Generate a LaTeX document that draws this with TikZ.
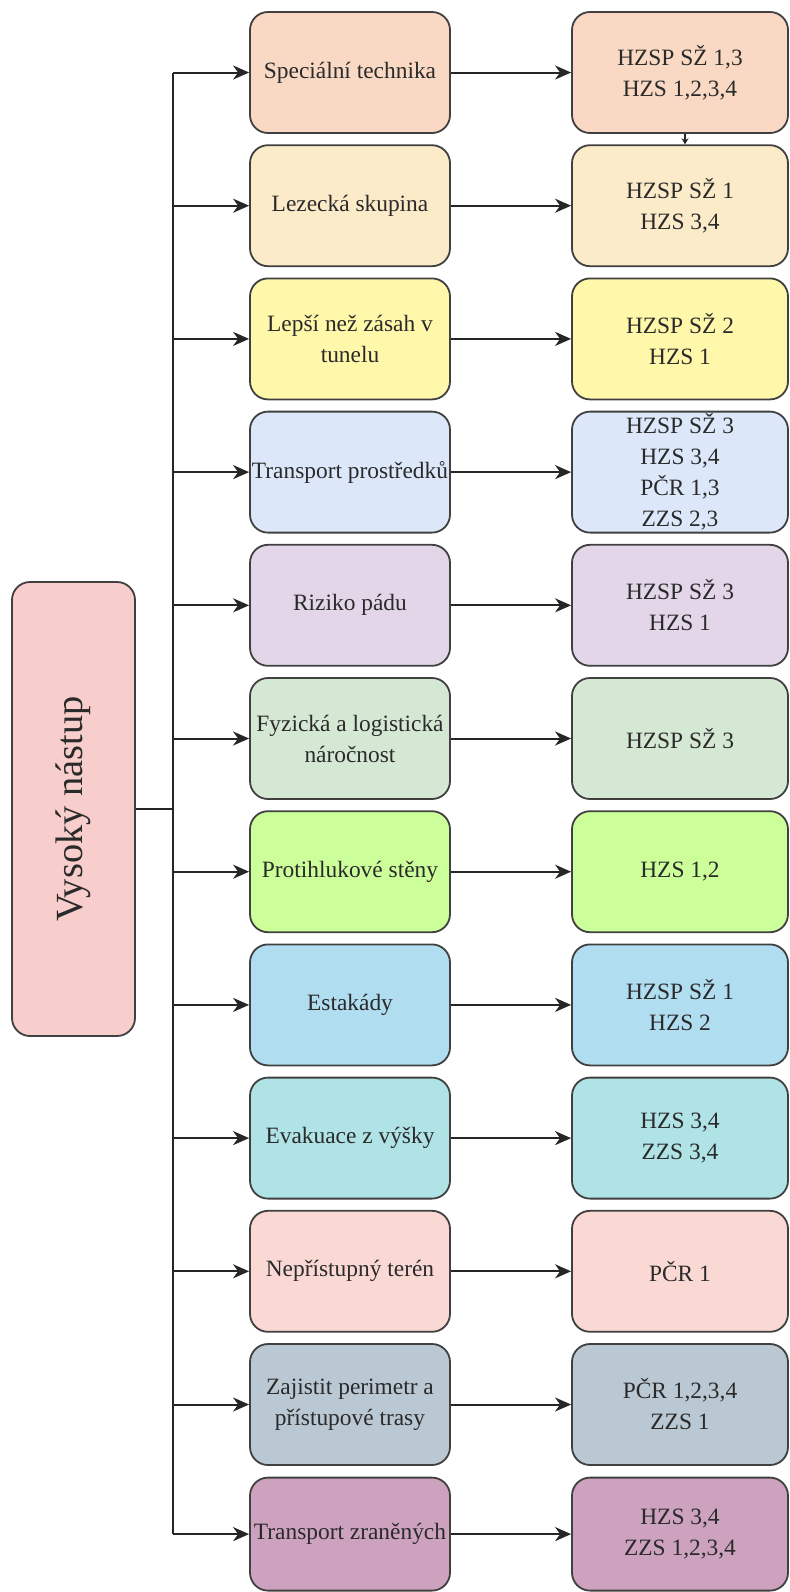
\documentclass[tikz,border=0pt]{standalone}
\usepackage{fontspec}
\setmainfont{Liberation Serif}
\usetikzlibrary{arrows.meta}
\definecolor{cbig}{HTML}{F8CECC}
\definecolor{ca}{HTML}{F9D9C3}
\definecolor{cb}{HTML}{FCEBC9}
\definecolor{cc}{HTML}{FFF8AA}
\definecolor{cd}{HTML}{DCE8FA}
\definecolor{ce}{HTML}{E2D6E8}
\definecolor{cf}{HTML}{D5E8D4}
\definecolor{cg}{HTML}{CCFF99}
\definecolor{ch}{HTML}{B1DDF0}
\definecolor{ci}{HTML}{B0E3E6}
\definecolor{cj}{HTML}{FAD9D5}
\definecolor{ck}{HTML}{BAC8D3}
\definecolor{cl}{HTML}{CDA2BE}
\definecolor{bord}{HTML}{404040}
\definecolor{txt}{HTML}{2A2A2A}
\tikzset{
  box/.style={draw=bord, line width=0.9pt, rounded corners=9pt, text=txt,
    align=center, inner sep=0pt, font=\fontsize{11.7}{15.5}\selectfont},
  midbox/.style={box, minimum width=100pt, minimum height=60.5pt},
  resbox/.style={box, minimum width=108pt, minimum height=60.5pt},
  conn/.style={line width=1pt, black!85},
  arr/.style={conn, -{Stealth[length=8pt,width=7pt,inset=2.5pt]}},
  smallarr/.style={conn, -{Stealth[length=3pt,width=3.5pt,inset=1pt]}}
}
\begin{document}
\begin{tikzpicture}[x=0.5pt,y=-0.5pt]
\useasboundingbox (0,0) rectangle (790,1592);
\fill[white] (0,0) rectangle (790,1592);

\node[box, fill=cbig, minimum width=61.5pt, minimum height=227pt,
  font=\fontsize{19.2}{23}\selectfont] (big) at (73.5,809) {\rotatebox{90}{Vysoký nástup}};

% middle column
\node[midbox, fill=ca] (m1) at (350,72.5) {Speciální technika};
\node[midbox, fill=cb] (m2) at (350,205.7) {Lezecká skupina};
\node[midbox, fill=cc] (m3) at (350,338.9) {Lepší než zásah v\\tunelu};
\node[midbox, fill=cd] (m4) at (350,472.1) {Transport prostředků};
\node[midbox, fill=ce] (m5) at (350,605.3) {Riziko pádu};
\node[midbox, fill=cf] (m6) at (350,738.5) {Fyzická a logistická\\náročnost};
\node[midbox, fill=cg] (m7) at (350,871.7) {Protihlukové stěny};
\node[midbox, fill=ch] (m8) at (350,1004.9) {Estakády};
\node[midbox, fill=ci] (m9) at (350,1138.1) {Evakuace z výšky};
\node[midbox, fill=cj] (m10) at (350,1271.3) {Nepřístupný terén};
\node[midbox, fill=ck] (m11) at (350,1404.5) {Zajistit perimetr a\\přístupové trasy};
\node[midbox, fill=cl, minimum height=56.5pt] (m12) at (350,1534.1) {Transport zraněných};

% right column
\node[resbox, fill=ca] (r1) at (680,72.5) {HZSP SŽ 1,3\\HZS 1,2,3,4};
\node[resbox, fill=cb] (r2) at (680,205.7) {HZSP SŽ 1\\HZS 3,4};
\node[resbox, fill=cc] (r3) at (680,338.9) {HZSP SŽ 2\\HZS 1};
\node[resbox, fill=cd] (r4) at (680,472.1) {HZSP SŽ 3\\HZS 3,4\\PČR 1,3\\ZZS 2,3};
\node[resbox, fill=ce] (r5) at (680,605.3) {HZSP SŽ 3\\HZS 1};
\node[resbox, fill=cf] (r6) at (680,738.5) {HZSP SŽ 3};
\node[resbox, fill=cg] (r7) at (680,871.7) {HZS 1,2};
\node[resbox, fill=ch] (r8) at (680,1004.9) {HZSP SŽ 1\\HZS 2};
\node[resbox, fill=ci] (r9) at (680,1138.1) {HZS 3,4\\ZZS 3,4};
\node[resbox, fill=cj] (r10) at (680,1271.3) {PČR 1};
\node[resbox, fill=ck] (r11) at (680,1404.5) {PČR 1,2,3,4\\ZZS 1};
\node[resbox, fill=cl, minimum height=56.5pt] (r12) at (680,1534.1) {HZS 3,4\\ZZS 1,2,3,4};

% trunk coordinates
\foreach \i in {1,...,12} {
  \coordinate (t\i) at (173,0 |- m\i.west);
}
\coordinate (tj) at (173,809);
\draw[conn] (big.east) -- (tj);
\draw[conn] (t1) -- (t12);
\foreach \i in {1,...,12} {
  \draw[arr] (t\i) -- (m\i.west);
  \draw[arr] (m\i.east) -- (r\i.west);
}
\draw[smallarr] ([xshift=2.5pt]r1.south) -- ([xshift=2.5pt]r2.north);
\end{tikzpicture}
\end{document}
